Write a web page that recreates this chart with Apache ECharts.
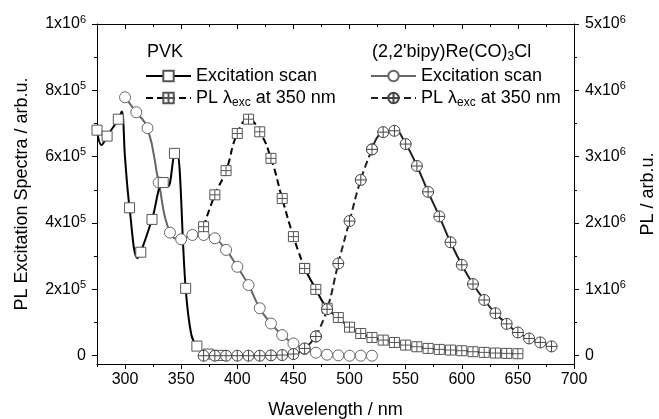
<!DOCTYPE html>
<html>
<head>
<meta charset="utf-8">
<script src="https://cdn.jsdelivr.net/npm/echarts@6/dist/echarts.min.js"></script>
<style>
html, body { margin: 0; padding: 0; background: #fff; }
#chart { width: 659px; height: 419px; }
</style>
</head>
<body>
<div id="chart"></div>
<script>
// values (wavelength in nm, intensity in arb.u.)

// PVK excitation scan (left axis): measured points with markers
const pvkExcWl  = [275, 284, 294, 304, 314, 324, 334, 344, 354, 364, 374, 384];
const pvkExcVal = [680000, 662000, 713000, 446000, 312000, 411000, 522000, 610000, 203000, 29000, 5000, 1000];
// extra points read along the PVK line between markers
const pvkExcShapeWl  = [279, 297, 300, 311, 338, 346, 359];
const pvkExcShapeVal = [635000, 736000, 595000, 294000, 510000, 615000, 64000];

// PVK PL (left axis)
const pvkPlWl  = [370, 380, 390, 400, 410, 420, 430, 440, 450, 460, 470, 480, 490, 500, 510,
                  520, 530, 540, 550, 560, 570, 580, 590, 600, 610, 620, 630, 640, 650];
const pvkPlVal = [389000, 485000, 558000, 670000, 713000, 675000, 595000, 474000, 359000, 263000,
                  200000, 143000, 115000, 86000, 67000, 55000, 47000, 40000, 32000, 27000,
                  22000, 19000, 17000, 15000, 12000, 10000, 8000, 7000, 6000];

// (2,2'bipy)Re(CO)3Cl excitation scan (left axis)
const reExcWl  = [300, 310, 320, 330, 340, 350, 360, 370, 380, 390, 400, 410, 420, 430, 440,
                  450, 460, 470, 480, 490, 500, 510, 520];
const reExcVal = [779000, 734000, 686000, 522000, 371000, 351000, 364000, 364000, 354000, 319000,
                  268000, 213000, 143000, 97000, 62000, 37000, 20000, 9000, 3000, 1000, 0, 0, 0];

// (2,2'bipy)Re(CO)3Cl PL (right axis)
const rePlWl  = [370, 380, 390, 400, 410, 420, 430, 440, 450, 460, 470, 480, 490, 500, 510, 520,
                 530, 540, 550, 560, 570, 580, 590, 600, 610, 620, 630, 640, 650, 660, 670, 680];
const rePlVal = [0, 0, 0, 0, 0, 0, 5000, 10000, 25000, 110000, 290000, 700000, 1390000, 2030000,
                 2650000, 3110000, 3370000, 3390000, 3190000, 2860000, 2470000, 2100000, 1710000,
                 1370000, 1080000, 840000, 640000, 480000, 350000, 260000, 200000, 140000];

// ticks
const xMajorTicks = [300, 350, 400, 450, 500, 550, 600, 650, 700];
const xMinorTicks = [275, 325, 375, 425, 475, 525, 575, 625, 675];
const leftMajorTicks  = [0, 200000, 400000, 600000, 800000, 1000000];
const leftMinorTicks  = [100000, 300000, 500000, 700000, 900000];
const rightMajorTicks = [0, 1000000, 2000000, 3000000, 4000000, 5000000];
const rightMinorTicks = [500000, 1500000, 2500000, 3500000, 4500000];

const legendText = {
  'PVK exc': 'Excitation scan',
  'PVK PL': 'PL λexc at 350 nm',
  'Re exc': 'Excitation scan',
  'Re PL': 'PL λexc at 350 nm'
};

const FONT = '"Liberation Sans", Arial, sans-serif';
const squarePlus = 'path://M0,0H10V10H0Z M5,0V10 M0,5H10';
const circlePlus = 'path://M10,5A5,5,0,1,1,0,5A5,5,0,1,1,10,5Z M5,0V10 M0,5H10';

function pairs(wl, val) {
  return wl.map((w, i) => [w, val[i]]);
}
function range(list, from, to) {
  return list.filter(p => p[0] >= from && p[0] <= to);
}

const pvkExcData = pairs(pvkExcWl, pvkExcVal).map(p => ({ value: p }))
  .concat(pairs(pvkExcShapeWl, pvkExcShapeVal).map(p => ({ value: p, symbol: 'none' })))
  .sort((a, b) => a.value[0] - b.value[0]);
const pvkPl = pairs(pvkPlWl, pvkPlVal);
const rePl = pairs(rePlWl, rePlVal);

function supLabel(v) {
  if (v === 0) return '{b|0}';
  const e = Math.floor(Math.log10(v) + 1e-9);
  const m = Math.round(v / Math.pow(10, e));
  return '{b|' + m + 'x10}{s|' + e + '}';
}

const labelRich = {
  b: { fontSize: 16, lineHeight: 20, color: '#000', fontFamily: FONT },
  s: { fontSize: 11, verticalAlign: 'top', color: '#000', fontFamily: FONT }
};
const legendRich = {
  t: { fontSize: 18, lineHeight: 22, color: '#000', fontWeight: 'normal', fontFamily: FONT },
  sub: { fontSize: 12, verticalAlign: 'bottom', color: '#000', fontWeight: 'normal', fontFamily: FONT }
};

function xAxisBase(position, ticks, len, inside, labels, line) {
  return {
    type: 'value', position: position, min: 275, max: 700,
    axisLine: { show: line, onZero: false, lineStyle: { color: '#000', width: 1 } },
    axisTick: { show: true, inside: inside, length: len, customValues: ticks, lineStyle: { color: '#000', width: 1 } },
    axisLabel: labels ? { show: true, customValues: ticks, margin: 8, fontSize: 16, color: '#000', fontFamily: FONT } : { show: false },
    splitLine: { show: false }
  };
}
function yAxisBase(position, min, max, ticks, len, labels, line) {
  return {
    type: 'value', position: position, min: min, max: max,
    axisLine: { show: line, onZero: false, lineStyle: { color: '#000', width: 1 } },
    axisTick: { show: true, length: len, customValues: ticks, lineStyle: { color: '#000', width: 1 } },
    axisLabel: labels ? { show: true, customValues: ticks, margin: 11, formatter: supLabel, rich: labelRich } : { show: false },
    splitLine: { show: false }
  };
}

const bottomAxis = xAxisBase('bottom', xMajorTicks, 5, false, true, true);
bottomAxis.name = 'Wavelength / nm';
bottomAxis.nameLocation = 'middle';
bottomAxis.nameGap = 37;
bottomAxis.nameTextStyle = { fontSize: 18, color: '#000', fontFamily: FONT };

const leftAxis = yAxisBase('left', -25000, 1000000, leftMajorTicks, 5, true, true);
leftAxis.name = 'PL Excitation Spectra / arb.u.';
leftAxis.nameLocation = 'middle';
leftAxis.nameGap = 66;
leftAxis.nameTextStyle = { fontSize: 18, color: '#000', fontFamily: FONT };

const rightAxis = yAxisBase('right', -125000, 5000000, rightMajorTicks, 5, true, true);
rightAxis.name = 'PL / arb.u.';
rightAxis.nameLocation = 'middle';
rightAxis.nameGap = 65;
rightAxis.nameTextStyle = { fontSize: 18, color: '#000', fontFamily: FONT };

function lineSeries(name, data, yIndex, lineColor, dash, symbol, size, border, smooth) {
  return {
    name: name, type: 'line', xAxisIndex: 0, yAxisIndex: yIndex, data: data,
    smooth: smooth,
    symbol: symbol, symbolSize: size, symbolKeepAspect: true,
    lineStyle: { color: lineColor, width: 2, type: dash },
    itemStyle: { color: '#fff', borderColor: border, borderWidth: 1 },
    emphasis: { disabled: true },
    silent: true
  };
}

function legendFormat(n) {
  const t = legendText[n];
  const m = t.match(/^(PL λ)exc( at 350 nm)$/);
  return m ? '{t|' + m[1] + '}{sub|exc}{t|' + m[2] + '}' : '{t|' + t + '}';
}

const option = {
  animation: false,
  backgroundColor: '#fff',
  grid: { left: 97, right: 85, top: 24, bottom: 55, containLabel: false, outerBoundsMode: 'none' },
  title: [
    { text: '{t|PVK}', left: 147, top: 41, padding: 0, textStyle: { fontWeight: 'normal', rich: legendRich } },
    { text: "{t|(2,2'bipy)Re(CO)}{sub|3}{t|Cl}", left: 372, top: 41, padding: 0, textStyle: { fontWeight: 'normal', rich: legendRich } }
  ],
  legend: [
    {
      data: ['PVK exc', 'PVK PL'], left: 145, top: 67, orient: 'vertical', padding: 0,
      itemWidth: 45, itemHeight: 13, itemGap: 4, selectedMode: false,
      formatter: legendFormat, textStyle: { rich: legendRich }
    },
    {
      data: ['Re exc', 'Re PL'], left: 370, top: 67, orient: 'vertical', padding: 0,
      itemWidth: 45, itemHeight: 13, itemGap: 4, selectedMode: false,
      formatter: legendFormat, textStyle: { rich: legendRich }
    }
  ],
  xAxis: [
    bottomAxis,
    xAxisBase('bottom', xMinorTicks, 3, false, false, false),
    xAxisBase('top', xMajorTicks, 5, true, false, true),
    xAxisBase('top', xMinorTicks, 3, true, false, false)
  ],
  yAxis: [
    leftAxis,
    rightAxis,
    yAxisBase('left', -25000, 1000000, leftMinorTicks, 3, false, false),
    yAxisBase('right', -125000, 5000000, rightMinorTicks, 3, false, false)
  ],
  series: [
    lineSeries('Re exc', pairs(reExcWl, reExcVal), 0, '#666', 'solid', 'circle', 11, '#666', 0.5),
    lineSeries('PVK exc', pvkExcData, 0, '#000', 'solid', 'rect', 10, '#555', 0.4),
    lineSeries('PVK PL', range(pvkPl, 370, 460), 0, '#000', [7, 4], squarePlus, 10, '#555', 0.5),
    lineSeries('PVK PL tail', range(pvkPl, 460, 650), 0, '#000', 'solid', squarePlus, 10, '#555', 0.5),
    lineSeries('Re PL base', range(rePl, 370, 470), 1, '#222', 'solid', circlePlus, 11, '#444', 0.5),
    lineSeries('Re PL', range(rePl, 470, 520), 1, '#222', [7, 4], circlePlus, 11, '#444', 0.5),
    lineSeries('Re PL tail', range(rePl, 520, 680), 1, '#222', 'solid', circlePlus, 11, '#444', 0.5)
  ]
};

const myChart = echarts.init(document.getElementById('chart'));
myChart.setOption(option);
</script>
</body>
</html>
